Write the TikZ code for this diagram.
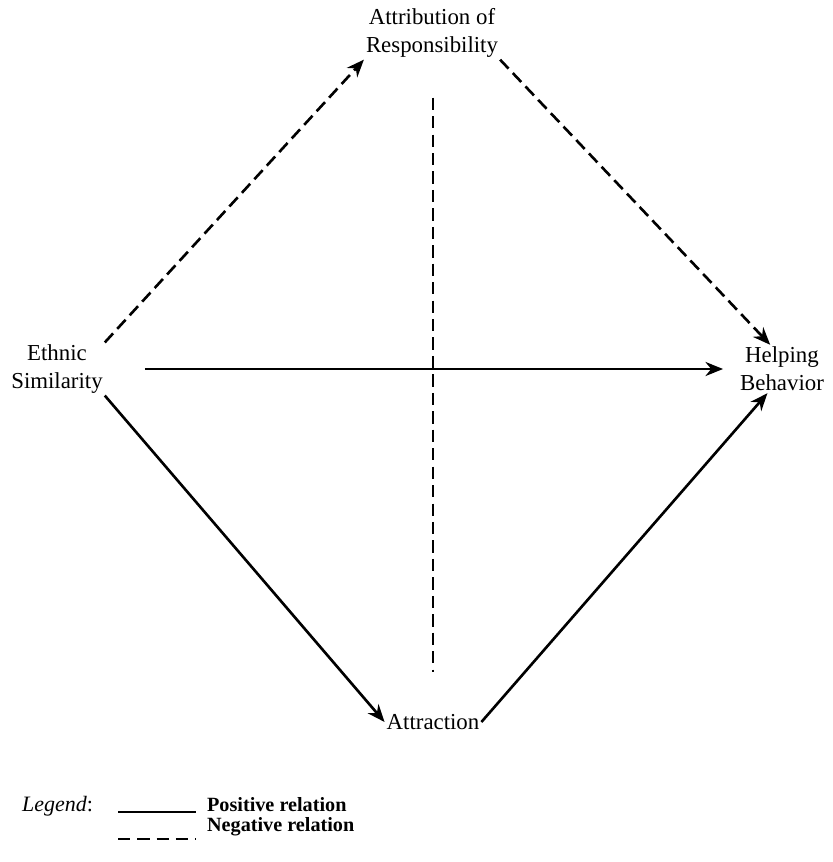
\documentclass[tikz,border=0pt]{standalone}
\usepackage{fontspec}
\setmainfont{Liberation Serif}
\usetikzlibrary{arrows.meta}
\begin{document}
\begin{tikzpicture}[
    x=0.02cm, y=-0.02cm,
    every node/.style={align=center, inner sep=1pt, font=\fontsize{13}{16}\selectfont},
    solid arrow/.style={draw, line width=1.5pt, -{Stealth[length=10pt,width=8pt]}},
    dashed arrow/.style={solid arrow, dash pattern=on 7pt off 3.5pt},
    dashed line/.style={draw, line width=1.5pt, dash pattern=on 7pt off 3.5pt},
    legend text/.style={anchor=base west, font=\fontsize{11.5}{13}\selectfont\bfseries},
    ]
\useasboundingbox (0,0) rectangle (832,862);
\node (ES) at (57,369) {Ethnic\\Similarity};
\node (AR) at (432,33) {Attribution of\\Responsibility};
\node (HB) at (782,369) {Helping\\Behavior};
\node (AT) at (433,722) {Attraction};
\draw[dashed arrow] (ES.north east) -- (AR.south west);
\draw[dashed arrow] (AR.south east) -- (HB.116);
\draw[dashed line, shorten <=0.76cm, shorten >=0.8cm] (AR.south -| AT.north) -- (AT.north);
\draw[solid arrow, shorten <=0.8cm, shorten >=0.3cm] (ES.east) -- (HB.west);
\draw[solid arrow] (ES.south east) -- (AT.west);
\draw[solid arrow] (AT.east) -- (HB.239);
\node[anchor=base west, font=\fontsize{12.5}{15}\selectfont] (LG) at (20,811) {\textit{Legend}:};
\node[legend text] (PR) at (205,811) {Positive relation};
\node[legend text] (NR) at (205,831) {Negative relation};
\coordinate (P1) at (118,812);
\coordinate (P2) at (196,812);
\coordinate (N1) at (118,839);
\coordinate (N2) at (196,839);
\draw[line width=0.8pt] (P1) -- (P2);
\draw[line width=0.8pt, dash pattern=on 7pt off 4pt] (N1) -- (N2);
\end{tikzpicture}
\end{document}
